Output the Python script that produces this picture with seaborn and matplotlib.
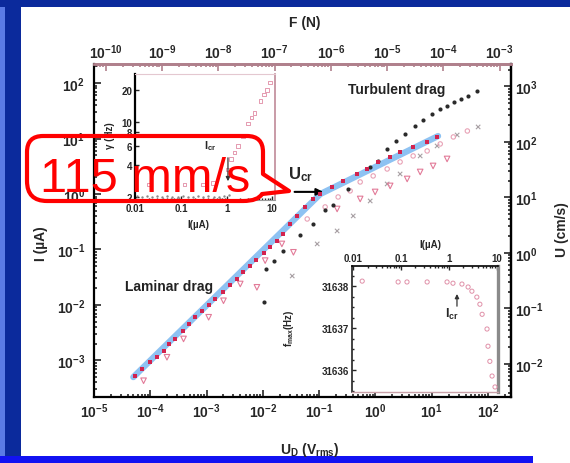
import matplotlib
matplotlib.use("Agg")
import matplotlib.pyplot as plt
import numpy as np
import seaborn as sns
from matplotlib.patches import Rectangle, PathPatch
from matplotlib.path import Path
from matplotlib.ticker import (FuncFormatter, LogLocator, NullFormatter,
                               FixedLocator, NullLocator, MultipleLocator)

# ---------------- main panel: drive voltage vs. current ----------------
# guide line (laminar branch I ~ U, turbulent branch I ~ sqrt(U))
fit_u = [5.0e-5, 0.105, 13.0]
fit_i = [5.0e-4, 1.0, 11.1]

# measured points lying on the guide line
on_u = [5.42e-5, 7.13e-5, 1.0e-4, 1.32e-4, 1.72e-4, 2.11e-4, 2.78e-4, 3.81e-4,
        4.79e-4, 6.30e-4, 8.28e-4, 1.09e-3, 1.43e-3, 1.95e-3, 2.64e-3, 3.47e-3,
        4.44e-3, 5.81e-3, 7.64e-3, 1.03e-2, 1.35e-2, 1.78e-2, 2.33e-2, 3.07e-2,
        4.08e-2, 5.66e-2, 7.85e-2, 0.105, 0.171, 0.268, 0.475, 0.714, 1.12,
        1.83, 2.75, 4.69, 8.32, 12.5]
on_i = [5.31e-4, 7.01e-4, 9.27e-4, 1.14e-3, 1.50e-3, 1.98e-3, 2.44e-3, 3.44e-3,
        4.54e-3, 6.00e-3, 7.89e-3, 1.0e-2, 1.28e-2, 1.74e-2, 2.29e-2, 2.94e-2,
        3.88e-2, 5.11e-2, 6.47e-2, 8.65e-2, 0.110, 0.144, 0.191, 0.288,
        0.403, 0.585, 0.815, 1.00, 1.34, 1.72, 2.30, 2.83, 3.78,
        4.66, 5.74, 7.06, 8.69, 10.7]

# upper (dark) data set
dark_u = [1.06e-2, 1.15e-2, 1.59e-2, 2.30e-2, 4.61e-2, 7.85e-2, 0.128, 0.178,
          0.329, 0.809, 1.12, 1.62, 2.34, 3.38, 5.09, 7.06, 10.2, 14.2, 18.8,
          25.1, 33.4, 44.5, 64.3]
dark_i = [1.13e-2, 4.45e-2, 6.2e-2, 9.4e-2, 0.183, 0.288, 0.516, 0.635,
          1.23, 3.08, 3.95, 6.50, 9.06, 12.1, 16.9, 21.7, 27.8, 34.2, 38.7,
          45.7, 51.8, 58.6, 72.1]

# open triangles
tri_u = [7.6e-5, 1.98e-4, 3.9e-4, 1.09e-3, 2.0e-3, 3.97e-3, 7.85e-3, 1.1e-2,
         2.18e-2, 3.5e-2, 0.209, 0.537, 0.99, 1.83, 3.67, 6.25, 10.6, 18.8]
tri_i = [4.3e-4, 1.14e-3, 2.44e-3, 6.0e-3, 1.19e-2, 2.39e-2, 2.08e-2, 6.3e-2,
         0.126, 8.9e-2, 0.538, 0.815, 1.09, 1.40, 1.87, 2.50, 3.21, 4.29]

# light circles (middle band)
ring_u = [6.15e-2, 0.128, 0.218, 0.356, 0.537, 0.914, 1.62, 2.75, 4.69, 8.32,
          14.2, 24.3, 43.1]
ring_i = [0.355, 0.585, 0.885, 1.14, 1.65, 2.12, 2.83, 3.79, 4.86, 5.98,
          8.0, 10.7, 13.7]

# crosses (lowest band)
cross_u = [3.33e-2, 9.25e-2, 0.209, 0.404, 0.809, 1.62, 2.75, 6.25, 12.5, 28.4, 67.0]
cross_i = [3.33e-2, 0.126, 0.216, 0.403, 0.750, 1.52, 2.30, 4.86, 7.36, 11.6, 16.2]

# conversion factors for the twin scales
F_PER_VOLT = 6.2e-6     # N per V_rms
CMS_PER_UA = 11.5       # cm/s per uA

# ---------------- upper-left inset ----------------
flat_i = [0.011, 0.014, 0.018, 0.023, 0.03, 0.038, 0.05, 0.065, 0.085, 0.11,
          0.14, 0.18, 0.24, 0.31, 0.4, 0.52, 0.68, 0.88, 1.1]
flat_v = [2.05, 2.0, 2.05, 2.0, 2.05, 2.0, 2.05, 2.0, 2.0, 2.05,
          2.0, 2.0, 2.05, 2.0, 2.05, 2.0, 2.0, 2.05, 2.1]
rise_i = [0.02, 0.12, 0.3, 0.5, 1.08, 1.25, 1.5, 1.77, 2.27, 2.9, 3.5, 4.1,
          5.5, 6.5, 7.8, 9.0]
rise_v = [2.6, 2.6, 2.6, 2.7, 3.6, 4.5, 5.2, 6.0, 7.4, 9.7, 11.0, 12.1,
          15.7, 18.0, 20.0, 23.3]
inset1_yticks = [2, 4, 6, 8, 10, 20]
inset_xticks = [0.01, 0.1, 1, 10]

# ---------------- lower-right inset ----------------
fmax_i = [0.0155, 0.087, 0.133, 0.35, 0.91, 1.21, 1.86, 2.5, 3.0, 3.8, 4.4,
          4.9, 6.2, 6.5, 7.1, 7.9, 9.1]
fmax_hz = [31638.12, 31638.10, 31638.10, 31638.10, 31638.10, 31638.07,
           31638.05, 31637.98, 31637.88, 31637.74, 31637.57, 31637.33,
           31636.98, 31636.57, 31636.21, 31635.86, 31635.60]
inset2_yticks = [31636, 31637, 31638]

# ---------------- style ----------------
sns.set_style("ticks")
plt.rcParams.update({
    "font.family": ["Liberation Sans", "DejaVu Sans"],
    "font.weight": "bold",
    "axes.labelweight": "bold",
    "mathtext.fontset": "custom",
    "mathtext.rm": "Liberation Sans:bold",
    "mathtext.it": "Liberation Sans:italic:bold",
    "mathtext.bf": "Liberation Sans:bold",
    "mathtext.default": "rm",
    "xtick.direction": "in",
    "ytick.direction": "in",
    "axes.edgecolor": "black",
})

NAVY = "#0B2A9C"
MAUVE = "#B0808C"
PINK = "#E27A98"
CRIMSON = "#D2234F"

fig = plt.figure(figsize=(5.7, 4.64), dpi=100)
fig.patch.set_facecolor(NAVY)

# slide background in pixel coordinates
bg = fig.add_axes([0, 0, 1, 1], zorder=-10)
bg.set_xlim(0, 570)
bg.set_ylim(464, 0)
bg.axis("off")
bg.add_patch(Rectangle((21, 8), 549, 449, color="white", lw=0))
bg.add_patch(Rectangle((533, 457), 37, 7, color="white", lw=0))
bg.add_patch(Rectangle((0, 8), 5, 449, color="#5A7BE6", lw=0))
bg.add_patch(Rectangle((0, 457), 533, 7, color="#1212F2", lw=0))


def decade(v, pos):
    return r"$10^{%d}$" % int(round(np.log10(v)))


def plain(v, pos):
    return f"{v:g}"


def points(axis, x, y, marker, size, face, edge, lw=0.7, z=3):
    sns.scatterplot(x=x, y=y, ax=axis, marker=marker, s=size,
                    color=edge if face == "none" else face,
                    linewidth=lw, zorder=z, legend=False)
    pc = axis.collections[-1]
    pc.set_facecolor(face)
    pc.set_edgecolor(edge)
    pc.set_linewidth(lw)


# ---------------- main axes ----------------
ax = fig.add_axes([93.5 / 570, 66 / 464, 417.5 / 570, 333 / 464], zorder=2)
ax.set_facecolor("white")
ax.set_xscale("log")
ax.set_yscale("log")

sns.lineplot(x=fit_u, y=fit_i, ax=ax, color="#8EC2F2", linewidth=4.5,
             estimator=None, sort=False, zorder=2)
points(ax, cross_u, cross_i, "x", 10, "none", "#A8A0A4", lw=0.8)
points(ax, ring_u, ring_i, "o", 10, "none", "#E8A2B6", lw=0.8)
points(ax, tri_u, tri_i, "v", 16, "none", PINK, lw=0.8)
points(ax, dark_u, dark_i, "o", 9, "#2A2A2A", "#2A2A2A", lw=0)
points(ax, on_u, on_i, "s", 5, CRIMSON, CRIMSON, lw=0, z=4)

ax.set_xlim(0.98e-5, 257)
ax.set_ylim(2.19e-4, 221)

for axis in (ax.xaxis, ax.yaxis):
    axis.set_major_locator(LogLocator(base=10, numticks=20))
    axis.set_minor_locator(LogLocator(base=10, subs=range(2, 10), numticks=100))
    axis.set_major_formatter(FuncFormatter(decade))
    axis.set_minor_formatter(NullFormatter())
ax.tick_params(which="both", direction="in", top=False, right=False,
               labelsize=10, width=1.2)
ax.tick_params(which="major", length=5)
ax.tick_params(which="minor", length=2.5)
ax.tick_params(axis="y", pad=6)
ax.tick_params(axis="x", pad=3.5)
for side in ("left", "bottom", "right"):
    ax.spines[side].set_linewidth(1.6)
    ax.spines[side].set_color("black")
ax.spines["top"].set_color(MAUVE)
ax.spines["top"].set_linewidth(2)

ax.set_xlabel(r"U$_{D}$ (V$_{rms}$)", fontsize=10)
ax.xaxis.set_label_coords(0.5186, -0.129)
ax.set_ylabel("I (µA)", fontsize=10)
ax.yaxis.set_label_coords(-0.109, 0.465)

# force scale on top
top = ax.secondary_xaxis("top", functions=(lambda u: u * F_PER_VOLT,
                                           lambda f: f / F_PER_VOLT))
top.xaxis.set_major_locator(LogLocator(base=10, numticks=20))
top.xaxis.set_minor_locator(LogLocator(base=10, subs=range(2, 10), numticks=100))
top.xaxis.set_major_formatter(FuncFormatter(decade))
top.xaxis.set_minor_formatter(NullFormatter())
top.tick_params(which="both", direction="in", labelsize=10, width=1.2,
                color=MAUVE, pad=2.5)
top.tick_params(which="major", length=5)
top.tick_params(which="minor", length=2.5)
top.spines["top"].set_color(MAUVE)
top.spines["top"].set_linewidth(2)
ax.text(0.507, 1.126, "F (N)", transform=ax.transAxes, fontsize=10,
        ha="center", va="center")

# velocity scale on the right
right = ax.secondary_yaxis("right", functions=(lambda i: i * CMS_PER_UA,
                                               lambda v: v / CMS_PER_UA))
right.yaxis.set_major_locator(LogLocator(base=10, numticks=20))
right.yaxis.set_minor_locator(LogLocator(base=10, subs=range(2, 10), numticks=100))
right.yaxis.set_major_formatter(FuncFormatter(decade))
right.yaxis.set_minor_formatter(NullFormatter())
right.tick_params(which="both", direction="in", labelsize=10, width=1.2, pad=3)
right.tick_params(which="major", length=5)
right.tick_params(which="minor", length=2.5)
right.spines["right"].set_linewidth(1.6)
ax.text(1.122, 0.507, "U (cm/s)", transform=ax.transAxes, fontsize=10,
        ha="center", va="center", rotation=90)

ax.text(0.727, 0.925, "Turbulent drag", transform=ax.transAxes, fontsize=10,
        ha="center", va="center", color="#222222")
ax.text(0.181, 0.333, "Laminar drag", transform=ax.transAxes, fontsize=10,
        ha="center", va="center", color="#222222")
ax.text(0.495, 0.67, r"U$_{cr}$", transform=ax.transAxes, fontsize=12,
        ha="center", va="center")
ax.annotate("", xy=(0.557, 0.616), xytext=(0.475, 0.616),
            xycoords="axes fraction", textcoords="axes fraction",
            arrowprops=dict(arrowstyle="-|>", color="black", lw=1.5,
                            mutation_scale=10))

# ---------------- upper-left inset ----------------
ax1 = fig.add_axes([135 / 570, 263 / 464, 140 / 570, 126 / 464], zorder=5)
ax1.set_facecolor("white")
ax1.set_xscale("log")
ax1.set_yscale("log")
points(ax1, flat_i, flat_v, "o", 3, "#8A8A8A", "#8A8A8A", lw=0)
points(ax1, rise_i, rise_v, "s", 7, "none", "#E08AA4", lw=0.6)
ax1.set_xlim(0.0098, 11.5)
ax1.set_ylim(1.87, 28)
ax1.xaxis.set_major_locator(FixedLocator(inset_xticks))
ax1.xaxis.set_minor_locator(LogLocator(base=10, subs=range(2, 10), numticks=50))
ax1.xaxis.set_major_formatter(FuncFormatter(plain))
ax1.xaxis.set_minor_formatter(NullFormatter())
ax1.yaxis.set_major_locator(FixedLocator(inset1_yticks))
ax1.yaxis.set_minor_locator(NullLocator())
ax1.yaxis.set_major_formatter(FuncFormatter(plain))
ax1.yaxis.set_minor_formatter(NullFormatter())
ax1.tick_params(which="both", direction="in", labelsize=7, width=1, pad=2)
ax1.tick_params(which="major", length=3)
ax1.tick_params(which="minor", length=1.5)
ax1.spines["left"].set_linewidth(1.6)
ax1.spines["left"].set_color("black")
ax1.spines["bottom"].set_color("#9A9A9A")
ax1.spines["bottom"].set_linewidth(0.8)
ax1.spines["top"].set_color("#E4C8D0")
ax1.spines["top"].set_linewidth(0.8)
ax1.spines["right"].set_color("#C08A98")
ax1.spines["right"].set_linewidth(1.2)
ax1.set_xlabel("I(µA)", fontsize=7)
ax1.xaxis.set_label_coords(0.45, -0.151)
ax1.set_ylabel("γ (Hz)", fontsize=7)
ax1.yaxis.set_label_coords(-0.143, 0.516)
ax1.text(0.536, 0.437, r"I$_{cr}$", transform=ax1.transAxes, fontsize=8,
         ha="center", va="center")
ax1.annotate("", xy=(0.664, 0.127), xytext=(0.664, 0.357),
             xycoords="axes fraction", textcoords="axes fraction",
             arrowprops=dict(arrowstyle="-|>", color="#333333", lw=0.9,
                             mutation_scale=6))

# ---------------- lower-right inset ----------------
ax2 = fig.add_axes([352 / 570, 71 / 464, 146 / 570, 126 / 464], zorder=5)
ax2.set_facecolor("white")
ax2.set_xscale("log")
points(ax2, fmax_i, fmax_hz, "o", 9, "none", "#E090A8", lw=0.7)
ax2.set_xlim(0.0095, 10.5)
ax2.set_ylim(31635.48, 31638.48)
ax2.xaxis.tick_top()
ax2.xaxis.set_label_position("top")
ax2.xaxis.set_major_locator(FixedLocator(inset_xticks))
ax2.xaxis.set_minor_locator(LogLocator(base=10, subs=range(2, 10), numticks=50))
ax2.xaxis.set_major_formatter(FuncFormatter(plain))
ax2.xaxis.set_minor_formatter(NullFormatter())
ax2.yaxis.set_major_locator(FixedLocator(inset2_yticks))
ax2.yaxis.set_minor_locator(MultipleLocator(0.25))
ax2.yaxis.set_major_formatter(FuncFormatter(lambda v, p: f"{v:.0f}"))
ax2.tick_params(which="both", direction="in", labelsize=7, width=1, pad=2)
ax2.tick_params(which="major", length=3)
ax2.tick_params(which="minor", length=1.5)
ax2.spines["left"].set_color("#222222")
ax2.spines["left"].set_linewidth(1.2)
ax2.spines["top"].set_color("black")
ax2.spines["top"].set_linewidth(1.2)
ax2.spines["right"].set_color("#8A8A8A")
ax2.spines["right"].set_linewidth(2.4)
ax2.spines["bottom"].set_color("#C8A0A8")
ax2.spines["bottom"].set_linewidth(1)
ax2.set_xlabel("I(µA)", fontsize=7)
ax2.xaxis.set_label_coords(0.534, 1.151)
ax2.set_ylabel(r"f$_{max}$(Hz)", fontsize=7)
ax2.yaxis.set_label_coords(-0.384, 0.516)
ax2.text(0.685, 0.627, r"I$_{cr}$", transform=ax2.transAxes, fontsize=9,
         ha="center", va="center")
ax2.annotate("", xy=(0.719, 0.80), xytext=(0.719, 0.659),
             xycoords="axes fraction", textcoords="axes fraction",
             arrowprops=dict(arrowstyle="-|>", color="#333333", lw=0.9,
                             mutation_scale=6))

# ---------------- speech-bubble call-out ----------------
ov = fig.add_axes([0, 0, 1, 1], zorder=30)
ov.set_xlim(0, 570)
ov.set_ylim(464, 0)
ov.axis("off")
ov.patch.set_alpha(0)
r = 16
verts = [(27 + r, 137), (263 - r, 137),
         (263, 137), (263, 137 + r),
         (263, 175), (289, 192), (262, 195),
         (258, 202), (243, 202),
         (27 + r + 4, 202),
         (27, 202), (27, 202 - r - 4),
         (27, 137 + r),
         (27, 137), (27 + r, 137),
         (27 + r, 137)]
codes = [Path.MOVETO, Path.LINETO,
         Path.CURVE3, Path.CURVE3,
         Path.LINETO, Path.LINETO, Path.LINETO,
         Path.CURVE3, Path.CURVE3,
         Path.LINETO,
         Path.CURVE3, Path.CURVE3,
         Path.LINETO,
         Path.CURVE3, Path.CURVE3,
         Path.CLOSEPOLY]
ov.add_patch(PathPatch(Path(verts, codes), facecolor="none", edgecolor="#FF0000",
                       lw=3, joinstyle="round"))
ov.text(145, 192, "115 mm/s", color="#FF0000", fontsize=35, fontweight="normal",
        ha="center", va="baseline", family="Liberation Sans")

fig.savefig("out.png", dpi=100, facecolor=fig.get_facecolor())
